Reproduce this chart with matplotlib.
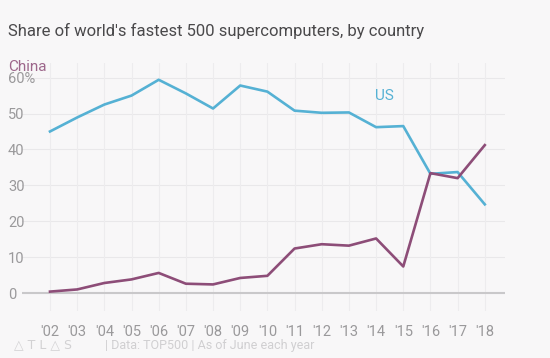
import matplotlib
matplotlib.use('Agg')
import matplotlib.pyplot as plt

years = list(range(2002, 2019))
yearLabels = ["'%02d" % (y % 100) for y in years]
usShare = [45.0, 48.9, 52.5, 55.0, 59.4, 55.6, 51.4, 57.8, 56.1, 50.8, 50.2, 50.3, 46.2, 46.5, 33.2, 33.7, 24.7]
chinaShare = [0.4, 1.0, 2.8, 3.8, 5.6, 2.6, 2.4, 4.2, 4.8, 12.4, 13.6, 13.2, 15.2, 7.4, 33.4, 32.0, 41.2]
yTicks = [0, 10, 20, 30, 40, 50, 60]
yLabels = ['0', '10', '20', '30', '40', '50', '60%']

bg = '#f8f7f8'
usColor = '#55b1d4'
chinaColor = '#8d4d78'

plt.rcParams['font.family'] = ['Roboto', 'DejaVu Sans']

fig = plt.figure(figsize=(5.5, 3.58), dpi=100, facecolor=bg)
ax = fig.add_axes([0.04, 0.1313, 0.878, 0.694], facecolor=bg)

# grid drawn by hand so the zero line can be darker
for y in yTicks[1:]:
	ax.axhline(y, color='#e9e8ea', lw=0.8, zorder=0)
for x in years:
	ax.axvline(x, color='#edecee', lw=0.8, zorder=0)
ax.axhline(0, color='#c9c8ca', lw=1.5, zorder=1)

ax.plot(years, usShare, color=usColor, lw=1.9, zorder=3)
ax.plot(years, chinaShare, color=chinaColor, lw=1.9, zorder=3)

ax.set_xlim(2000.97, 2018.74)
ax.set_ylim(-5, 64.2)

ax.set_xticks(years, yearLabels)
ax.set_yticks(yTicks, yLabels)
ax.tick_params(axis='x', length=0, pad=10, labelsize=10.5, labelcolor='#9a999b')
ax.tick_params(axis='y', length=0, pad=10, labelsize=10.5, labelcolor='#9a999b')
for label in ax.get_yticklabels():
	label.set_horizontalalignment('left')
for spine in ax.spines.values():
	spine.set_visible(False)

ax.text(2013.95, 55.0, 'US', color=usColor, fontsize=11, ha='left', va='center')
fig.text(8/550, 1 - 67/358, 'China', color=chinaColor, fontsize=11, ha='left', va='center', alpha=0.85)

fig.text(8/550, 1 - 31/358, "Share of world's fastest 500 supercomputers, by country",
		 fontsize=12, color='#4a494b', ha='left', va='center')

fig.text(14/550, 1 - 345/358, '\u25b3 T L \u25b3 S', fontsize=9, color='#d2d1d3', ha='left', va='center',
		 family=['DejaVu Sans'])
fig.text(105/550, 1 - 346/358, '| Data: TOP500 | As of June each year', fontsize=9,
		 color='#d0cfd1', ha='left', va='center')

fig.savefig('out.png', dpi=100, facecolor=bg)
